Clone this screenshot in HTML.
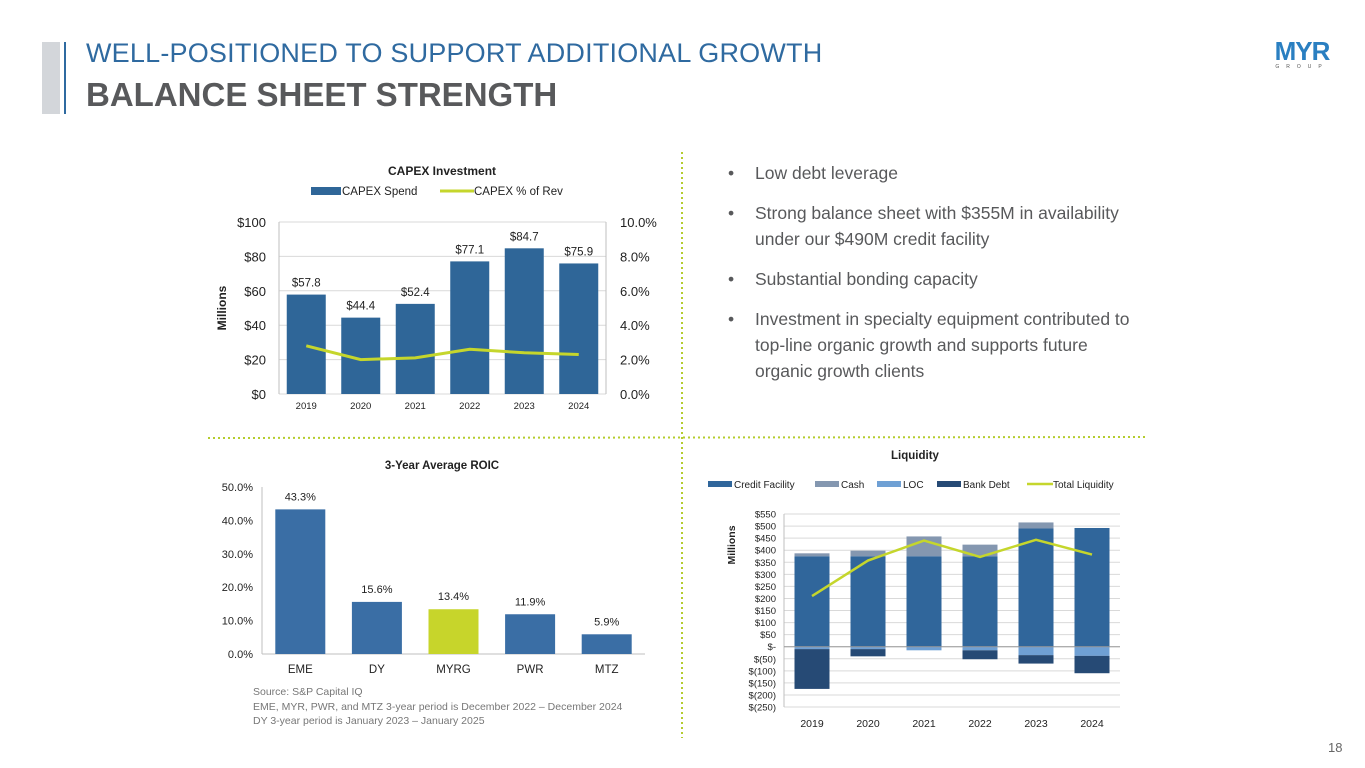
<!DOCTYPE html>
<html><head><meta charset="utf-8">
<style>
body{margin:0;width:1365px;height:768px;background:#fff;font-family:"Liberation Sans",sans-serif;position:relative;overflow:hidden}
.abs{position:absolute}
.nw{white-space:nowrap}
</style></head>
<body>
<div class="abs" style="left:42px;top:42px;width:18px;height:72px;background:#d3d6da"></div>
<div class="abs" style="left:64px;top:42px;width:2px;height:72px;background:#2f6aa0"></div>
<div class="abs" style="left:86px;top:38px;font-size:27px;color:#2f6aa0;letter-spacing:0.2px">WELL-POSITIONED TO SUPPORT ADDITIONAL GROWTH</div>
<div class="abs" style="left:86px;top:76px;font-size:33px;font-weight:bold;color:#58595b">BALANCE SHEET STRENGTH</div>
<div class="abs" style="left:1262px;top:40px;width:80px;text-align:center">
<div style="font-size:26px;font-weight:900;color:#2a7fc1;line-height:22px;letter-spacing:-1px">MYR</div>
<div style="font-size:5px;letter-spacing:7px;color:#555;margin-top:2px">GROUP</div></div>
<div class="abs" style="left:1328px;top:740px;font-size:13px;color:#666">18</div>

<div class="abs" style="left:728px;top:160px;width:430px;font-size:17.5px;color:#58595b;line-height:26px">
<div style="display:flex;margin-bottom:14px"><span style="width:27px">•</span><span>Low debt leverage</span></div>
<div style="display:flex;margin-bottom:14px"><span style="width:27px;flex:none">•</span><span>Strong balance sheet with $355M in availability under our $490M credit facility</span></div>
<div style="display:flex;margin-bottom:14px"><span style="width:27px">•</span><span>Substantial bonding capacity</span></div>
<div style="display:flex"><span style="width:27px;flex:none">•</span><span>Investment in specialty equipment contributed to<br><span class="nw">top-line</span> organic growth and supports future<br>organic growth clients</span></div>
</div>

<div class="abs" style="left:253px;top:685px;font-size:10.5px;color:#777;line-height:14.5px">Source: S&amp;P Capital IQ<br>EME, MYR, PWR, and MTZ 3-year period is December 2022 – December 2024<br>DY 3-year period is January 2023 – January 2025</div>

<svg class="abs" style="left:0;top:0" width="1365" height="768">
<line x1="682" y1="152" x2="682" y2="738" stroke="#b5cc2e" stroke-width="2" stroke-dasharray="2,3"/>
<line x1="208" y1="438" x2="1145" y2="437" stroke="#b5cc2e" stroke-width="2" stroke-dasharray="2,3"/>
<g id="capex"></g><g id="roic"></g><g id="liq"></g>
</svg>
<script>
const NS='http://www.w3.org/2000/svg';
function mk(p,t,a,txt){const e=document.createElementNS(NS,t);for(const k in a)e.setAttribute(k,a[k]);if(txt!==undefined)e.textContent=txt;p.appendChild(e);return e;}
const F='"Liberation Sans",sans-serif';
const GREEN='#c5d62c', BLUE='#2f6698';

// ---- CAPEX data
const capexYears=['2019','2020','2021','2022','2023','2024'];
const capexSpend=[57.8,44.4,52.4,77.1,84.7,75.9];
const capexPct=[2.8,2.0,2.1,2.6,2.4,2.3];
const capexLeftTicks=[0,20,40,60,80,100];
const capexRightTicks=[0,2,4,6,8,10];

// ---- ROIC data
const roicCats=['EME','DY','MYRG','PWR','MTZ'];
const roicVals=[43.3,15.6,13.4,11.9,5.9];
const roicTicks=[0,10,20,30,40,50];

// ---- Liquidity data
const liqYears=['2019','2020','2021','2022','2023','2024'];
const liqCredit=[375,375,375,375,490,492];
const liqCash=[12,23,82,48,25,0];
const liqLOC=[-10,-10,-15,-15,-35,-38];
const liqDebt=[-165,-30,0,-37,-35,-72];
const liqTotal=[210,357,440,372,443,382];
const liqTicks=[550,500,450,400,350,300,250,200,150,100,50,0,-50,-100,-150,-200,-250];

// CAPEX chart
(function(){
const g=document.getElementById('capex');
const x0=279,x1=606,yb=394,yt=222;
const y=v=>yb-(v/100)*(yb-yt), yr=v=>yb-(v/10)*(yb-yt);
const step=(x1-x0)/capexYears.length, cx=i=>x0+step*(i+0.5);
let t=mk(g,'text',{x:442,y:175,'text-anchor':'middle','font-size':12,'font-weight':'bold','font-family':F,fill:'#222'},'CAPEX Investment');

let r=mk(g,'rect',{x:311,y:187,width:30,height:8,fill:BLUE});
mk(g,'text',{x:342,y:195,'font-size':11.5,'font-family':F,fill:'#222'},'CAPEX Spend');
let l=mk(g,'line',{x1:440,y1:191,x2:474,y2:191,stroke:GREEN,'stroke-width':3});
mk(g,'text',{x:474,y:195,'font-size':11.5,'font-family':F,fill:'#222'},'CAPEX % of Rev');
capexLeftTicks.forEach(v=>{mk(g,'line',{x1:x0,y1:y(v),x2:x1,y2:y(v),stroke:'#d9d9d9'});
 mk(g,'text',{x:x0-13,y:y(v)+5,'text-anchor':'end','font-size':13,'font-family':F,fill:'#222'},'$'+v);});
capexRightTicks.forEach(v=>mk(g,'text',{x:x1+14,y:yr(v)+5,'font-size':13,'font-family':F,fill:'#222'},v.toFixed(1)+'%'));
mk(g,'line',{x1:x0,y1:yt,x2:x0,y2:yb,stroke:'#bfbfbf'});mk(g,'line',{x1:x1,y1:yt,x2:x1,y2:yb,stroke:'#bfbfbf'});
t=mk(g,'text',{x:0,y:0,transform:`translate(226,${(yb+yt)/2}) rotate(-90)`,'text-anchor':'middle','font-size':12,'font-weight':'bold','font-family':F,fill:'#222'},'Millions');

capexSpend.forEach((v,i)=>{const b=mk(g,'rect',{x:cx(i)-19.5,y:y(v),width:39,height:yb-y(v),fill:BLUE});
 
 mk(g,'text',{x:cx(i),y:y(v)-8,'text-anchor':'middle','font-size':11.5,'font-family':F,fill:'#222'},'$'+v.toFixed(1));
 mk(g,'text',{x:cx(i),y:yb+15,'text-anchor':'middle','font-size':9.5,'font-family':F,fill:'#222'},capexYears[i]);});
const pl=mk(g,'polyline',{points:capexPct.map((v,i)=>cx(i)+','+yr(v)).join(' '),fill:'none',stroke:GREEN,'stroke-width':3});

})();

// ROIC chart
(function(){
const g=document.getElementById('roic');
const x0=262,x1=645,yb=654,yt=487;
const y=v=>yb-(v/50)*(yb-yt);
const step=(x1-x0)/roicCats.length, cx=i=>x0+step*(i+0.5);
let t=mk(g,'text',{x:442,y:469,'text-anchor':'middle','font-size':11.5,'font-weight':'bold','font-family':F,fill:'#222'},'3-Year Average ROIC');

roicTicks.forEach(v=>mk(g,'text',{x:x0-9,y:y(v)+4,'text-anchor':'end','font-size':11,'font-family':F,fill:'#222'},v.toFixed(1)+'%'));
mk(g,'line',{x1:x0,y1:yt,x2:x0,y2:yb,stroke:'#bfbfbf'});mk(g,'line',{x1:x0,y1:yb,x2:x1,y2:yb,stroke:'#bfbfbf'});
roicVals.forEach((v,i)=>{const b=mk(g,'rect',{x:cx(i)-25,y:y(v),width:50,height:yb-y(v),fill:roicCats[i]==='MYRG'?'#c7d52b':'#3a6ea5'});
 
 mk(g,'text',{x:cx(i),y:y(v)-9,'text-anchor':'middle','font-size':11,'font-family':F,fill:'#222'},v.toFixed(1)+'%');
 mk(g,'text',{x:cx(i),y:yb+19,'text-anchor':'middle','font-size':11.5,'font-family':F,fill:'#222'},roicCats[i]);});
})();

// Liquidity chart
(function(){
const g=document.getElementById('liq');
const x0=784,x1=1120,yt=514,yb=707,top=550,bot=-250;
const y=v=>yt+(top-v)/(top-bot)*(yb-yt);
const step=(x1-x0)/liqYears.length, cx=i=>x0+step*(i+0.5);
let t=mk(g,'text',{x:915,y:459,'text-anchor':'middle','font-size':11.5,'font-weight':'bold','font-family':F,fill:'#222'},'Liquidity');

const leg=[['Credit Facility','#30669b',708],['Cash','#8497b0',815],['LOC','#6fa0d4',877],['Bank Debt','#264a75',937]];
leg.forEach(([n,c,x])=>{const r=mk(g,'rect',{x:x,y:481,width:24,height:6,fill:c});
 
 mk(g,'text',{x:x+26,y:488,'font-size':10,'font-family':F,fill:'#222'},n);});
const ll=mk(g,'line',{x1:1027,y1:484,x2:1053,y2:484,stroke:GREEN,'stroke-width':2.5});
mk(g,'text',{x:1053,y:488,'font-size':10,'font-family':F,fill:'#222'},'Total Liquidity');
liqTicks.forEach(v=>{mk(g,'line',{x1:x0,y1:y(v),x2:x1,y2:y(v),stroke:'#d9d9d9'});
 const lab=v===0?'$-':v>0?'$'+v:'$('+(-v)+')';
 mk(g,'text',{x:x0-8,y:y(v)+3.5,'text-anchor':'end','font-size':9.5,'font-family':F,fill:'#222'},lab);});
mk(g,'line',{x1:x0,y1:yt,x2:x0,y2:yb,stroke:'#bfbfbf'});
t=mk(g,'text',{x:0,y:0,transform:'translate(735,545) rotate(-90)','text-anchor':'middle','font-size':10.5,'font-weight':'bold','font-family':F,fill:'#222'},'Millions');

const w=35;
liqYears.forEach((yr,i)=>{
 const segs=[['credit',0,liqCredit[i],'#30669b'],['cash',liqCredit[i],liqCredit[i]+liqCash[i],'#8497b0'],
  ['loc',0,liqLOC[i],'#6fa0d4'],['debt',liqLOC[i],liqLOC[i]+liqDebt[i],'#264a75']];
 segs.forEach(([n,a,b,c])=>{if(a===b)return;const r=mk(g,'rect',{x:cx(i)-w/2,y:y(Math.max(a,b)),width:w,height:Math.abs(y(a)-y(b)),fill:c});
  });
 mk(g,'text',{x:cx(i),y:yb+20,'text-anchor':'middle','font-size':10.5,'font-family':F,fill:'#222'},yr);});
mk(g,'line',{x1:x0,y1:y(0),x2:x1,y2:y(0),stroke:'#999'});
const pl=mk(g,'polyline',{points:liqTotal.map((v,i)=>cx(i)+','+y(v)).join(' '),fill:'none',stroke:GREEN,'stroke-width':2.5});

})();
</script>
</body></html>
